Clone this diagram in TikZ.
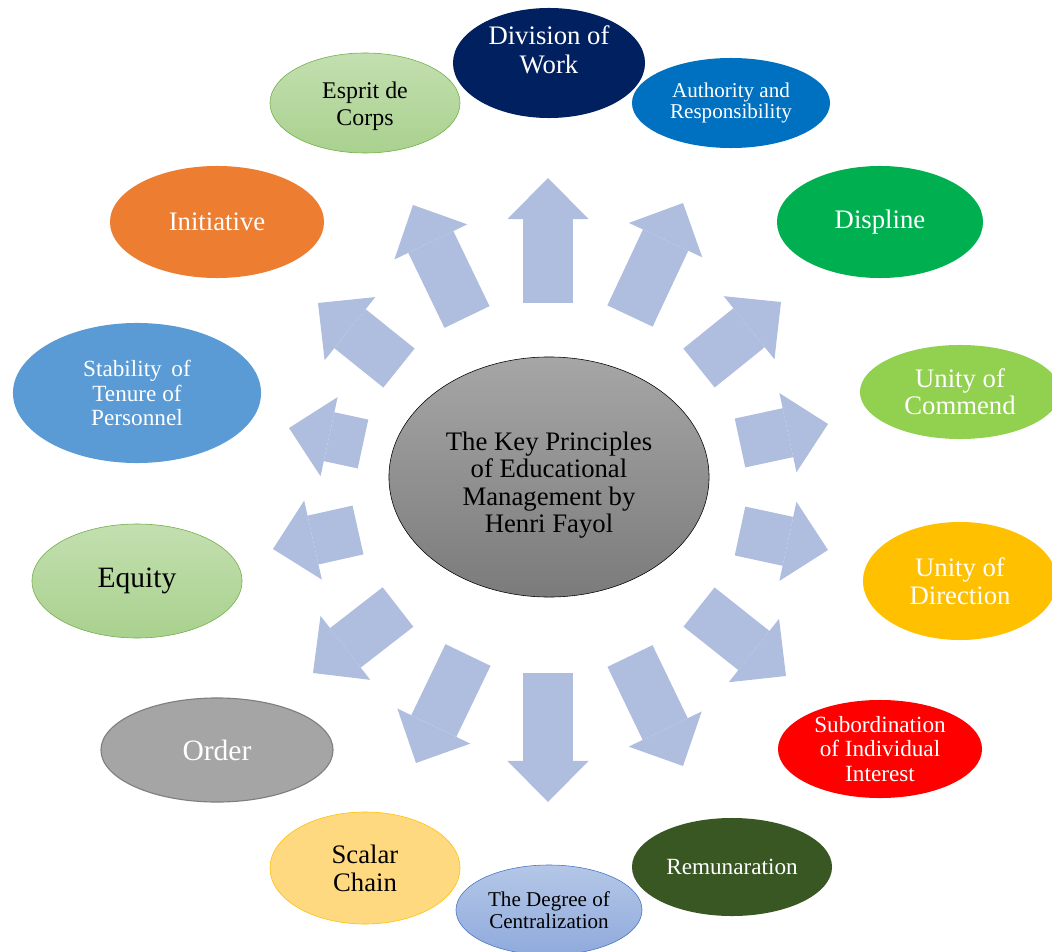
\documentclass[tikz,border=0pt]{standalone}
\usepackage{fontspec}
\setmainfont{Liberation Serif}
\usetikzlibrary{shapes.geometric,arrows.meta}
\definecolor{ArrowBlue}{HTML}{AFBDDF}
\definecolor{CoreLight}{HTML}{A6A6A6}
\definecolor{CoreDark}{HTML}{7B7B7B}
\definecolor{NavyWork}{HTML}{002060}
\definecolor{AuthBlue}{HTML}{0070C0}
\definecolor{PaleGreen}{HTML}{A9D18E}
\definecolor{PaleGreenTop}{HTML}{C3DFB0}
\definecolor{EdgeGreen}{HTML}{70AD47}
\definecolor{InitOrange}{HTML}{ED7D31}
\definecolor{DiscGreen}{HTML}{00B050}
\definecolor{TenureBlue}{HTML}{5B9BD5}
\definecolor{CommendGreen}{HTML}{92D050}
\definecolor{DirGold}{HTML}{FFC000}
\definecolor{OrderGray}{HTML}{A5A5A5}
\definecolor{OrderEdge}{HTML}{7F7F7F}
\definecolor{SubRed}{HTML}{FF0000}
\definecolor{ScalarYellow}{HTML}{FFD97F}
\definecolor{CentralTop}{HTML}{B4C7E7}
\definecolor{CentralBottom}{HTML}{8FAADC}
\definecolor{CentralEdge}{HTML}{4472C4}
\definecolor{PayGreen}{HTML}{385723}

\begin{document}
\begin{tikzpicture}[x=0.025cm, y=-0.025cm,
    principle/.style={ellipse, inner sep=0pt, align=center, text=white},
    size/.style 2 args={minimum width=#1*0.05cm, minimum height=#2*0.05cm},
    fsz/.style 2 args={font=\fontsize{#1}{#2}\selectfont},
    blockarrow/.style={draw=ArrowBlue, line width=1.25cm,
      -{Triangle[length=1.025cm, width=2.025cm, line width=0pt]}}]
  \useasboundingbox (0,0) rectangle (1052,952);
  \clip (0,0) rectangle (1052,952);

  % Arrows out of the core
  \foreach \sx/\sy/\tx/\ty [count=\i] in {548/303/548/178, 630/316/683/203,
      699/368/781/302, 740/443/828/424, 740/531/828/550, 699/607/786/676,
      630/656/683/766, 548/673/548/802, 468/655/416/763, 398/607/313/673,
      358/530/273/549, 363/444/289/428, 399/368/318/303, 467/317/413/205} {
    \coordinate (s\i) at (\sx,\sy);
    \coordinate (t\i) at (\tx,\ty);
    \draw[blockarrow] (s\i) -- (t\i);
  }

  % Core
  \node[principle, size={160}{120}, text=black, top color=CoreLight,
    bottom color=CoreDark, draw=black,
    label={[text=black, align=center, fsz={19}{19.5}, yshift=-0.2cm]center:The Key Principles\\of Educational\\Management by\\Henri Fayol}]
    (core) at (549,477) {};

  % Principles
  \node[principle, size={96}{55}, fill=NavyWork,
    label={[text=white, align=center, fsz={19}{20}, yshift=0.33cm]center:Division of\\Work}]
    (division) at (549,63) {};
  \node[principle, size={99}{45}, fill=AuthBlue, fsz={15}{15.5}] (authority) at (731,103)
    {Authority and\\Responsibility};
  \node[principle, size={95}{50}, text=black, top color=PaleGreenTop,
    bottom color=PaleGreen, draw=EdgeGreen,
    label={[text=black, align=center, fsz={17}{19}, yshift=-0.08cm]center:Esprit de\\Corps}]
    (esprit) at (365,103) {};
  \node[principle, size={107}{56}, fill=InitOrange, fsz={19}{20}] (initiative) at (217,222)
    {Initiative};
  \node[principle, size={103}{56}, fill=DiscGreen, fsz={19}{20}] (displine) at (880,222)
    {Displine};
  \node[principle, size={124}{70}, fill=TenureBlue, fsz={16.5}{17.5}] (tenure) at (137,393)
    {Stability\, of\\Tenure of\\Personnel};
  \node[principle, size={100}{47}, fill=CommendGreen, fsz={19}{19.5}] (commend) at (960,392)
    {Unity of\\Commend};
  \node[principle, size={105}{57}, text=black, top color=PaleGreenTop,
    bottom color=PaleGreen, draw=EdgeGreen, fsz={21}{22}] (equity) at (137,581)
    {Equity};
  \node[principle, size={97}{59}, fill=DirGold, fsz={19}{20}] (direction) at (960,581)
    {Unity of\\Direction};
  \node[principle, size={116}{52}, fill=OrderGray, draw=OrderEdge, thick,
    fsz={21}{22}] (order) at (217,750) {Order};
  \node[principle, size={102}{49}, fill=SubRed, fsz={16.5}{17.5}] (subordination) at (880,749)
    {Subordination\\of Individual\\Interest};
  \node[principle, size={95}{56}, text=black, fill=ScalarYellow, draw=DirGold,
    fsz={19}{20}] (scalar) at (365,868) {Scalar\\Chain};
  \node[principle, size={93}{45}, text=black, top color=CentralTop,
    bottom color=CentralBottom, draw=CentralEdge, fsz={15}{15.5}] (centralization) at (549,910)
    {The Degree of\\Centralization};
  \node[principle, size={100}{49}, fill=PayGreen, fsz={16.5}{18}] (remuneration) at (732,867)
    {Remunaration};
\end{tikzpicture}
\end{document}
